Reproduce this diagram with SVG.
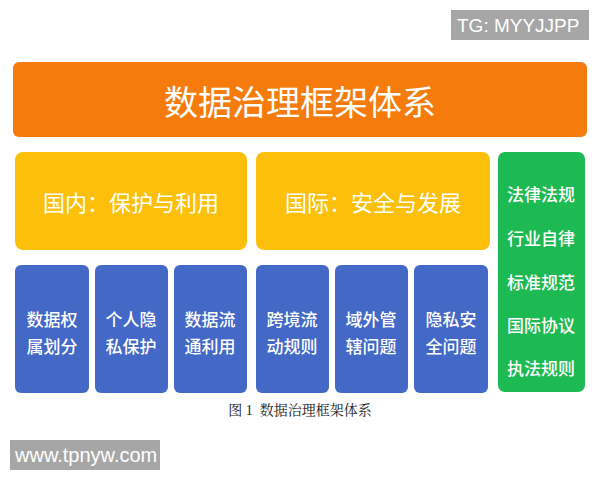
<svg xmlns="http://www.w3.org/2000/svg" width="600" height="480" viewBox="0 0 600 480">
<style>
.t{font-family:"Noto Sans CJK SC","Liberation Sans",sans-serif;fill:#fff;text-anchor:middle;dominant-baseline:central}
.blue rect{fill:#4468C6}
.bt{font-size:17px;font-weight:500}
.gt{font-size:17px;font-weight:500}
.wm{fill:#A6A6A6}
.wt{font-family:"Liberation Sans",Arial,sans-serif;fill:#fff;dominant-baseline:central}
</style>
<rect width="600" height="480" fill="#fff"/>
<g id="top"><rect x="13" y="62" width="574" height="75" rx="6" fill="#F47B0C"/><text class="t" x="300" y="100" font-size="34">数据治理框架体系</text></g>
<g id="domestic"><rect x="15" y="152" width="232" height="98" rx="8" fill="#FDC00A"/><text class="t" x="131" y="201" font-size="22">国内：保护与利用</text></g>
<g id="intl"><rect x="256" y="152" width="234" height="98" rx="8" fill="#FDC00A"/><text class="t" x="373" y="201" font-size="22">国际：安全与发展</text></g>
<g id="green"><rect x="498" y="152" width="87" height="240" rx="7" fill="#1DB952"/>
<text class="t gt" x="541" y="193">法律法规</text>
<text class="t gt" x="541" y="237">行业自律</text>
<text class="t gt" x="541" y="281">标准规范</text>
<text class="t gt" x="541" y="324">国际协议</text>
<text class="t gt" x="541" y="367">执法规则</text></g>
<g id="b1" class="blue"><rect x="15" y="265" width="74" height="128" rx="6"/><text class="t bt" x="52" y="318">数据权</text><text class="t bt" x="52" y="345">属划分</text></g>
<g id="b2" class="blue"><rect x="95" y="265" width="73" height="128" rx="6"/><text class="t bt" x="131" y="318">个人隐</text><text class="t bt" x="131" y="345">私保护</text></g>
<g id="b3" class="blue"><rect x="174" y="265" width="73" height="128" rx="6"/><text class="t bt" x="210" y="318">数据流</text><text class="t bt" x="210" y="345">通利用</text></g>
<g id="b4" class="blue"><rect x="256" y="265" width="73" height="128" rx="6"/><text class="t bt" x="292" y="318">跨境流</text><text class="t bt" x="292" y="345">动规则</text></g>
<g id="b5" class="blue"><rect x="335" y="265" width="73" height="128" rx="6"/><text class="t bt" x="371" y="318">域外管</text><text class="t bt" x="371" y="345">辖问题</text></g>
<g id="b6" class="blue"><rect x="414" y="265" width="74" height="128" rx="6"/><text class="t bt" x="451" y="318">隐私安</text><text class="t bt" x="451" y="345">全问题</text></g>
<g id="connectors"/>
<text x="300" y="410" xml:space="preserve" font-family="'Liberation Serif','Noto Serif CJK SC','Noto Sans CJK SC',serif" font-size="14" fill="#222" text-anchor="middle" dominant-baseline="central">图 1  数据治理框架体系</text>
<g id="wm1"><rect class="wm" x="451" y="10" width="138" height="30"/><text class="wt" x="457" y="25" font-size="19">TG: MYYJJPP</text></g>
<g id="wm2"><rect class="wm" x="10" y="440" width="150" height="30"/><text class="wt" x="15" y="455" font-size="20">www.tpnyw.com</text></g>
</svg>
